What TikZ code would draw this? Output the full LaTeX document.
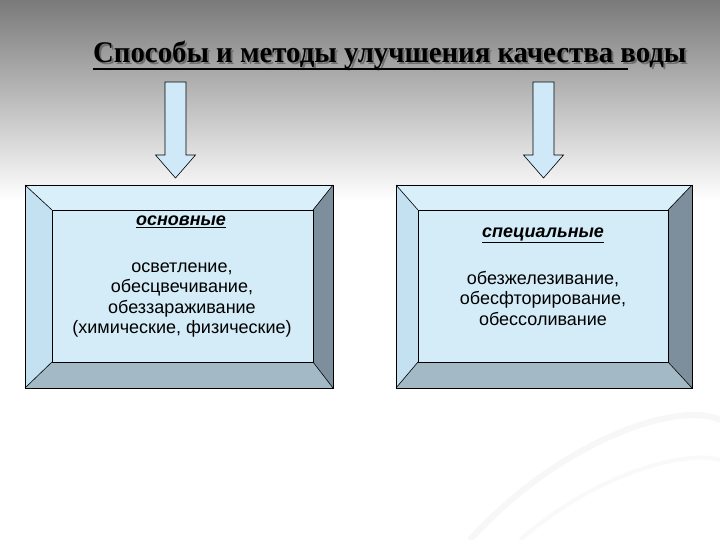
\documentclass[tikz,border=0pt]{standalone}
\usepackage{fontspec}
\setmainfont{Liberation Sans}
\newfontfamily\titlefont[FakeStretch=0.96]{Liberation Serif}
\begin{document}
\begin{tikzpicture}[x=1pt,y=-1pt,
  edge/.style={draw=black,line width=0.6pt},
  arr/.style={draw=black,line width=0.6pt,fill=arrowblue},
  txt/.style={font=\fontsize{18}{20.5}\selectfont,align=center,inner sep=0pt},
  head/.style={font=\fontsize{18}{20.5}\selectfont\bfseries\itshape,inner sep=0pt}]
\definecolor{arrowblue}{HTML}{CFE9F8}
\definecolor{face}{HTML}{D3ECF8}
\definecolor{topb}{HTML}{D9EFFA}
\definecolor{leftb}{HTML}{C3E1F1}
\definecolor{rightb}{HTML}{7D8F9C}
\definecolor{botb}{HTML}{A3B9C6}
\useasboundingbox (0,0) rectangle (720,540);
\fill[white] (0,0) rectangle (720,540);
\shade[top color=gray!90!black!95, bottom color=white] (0,0) rectangle (720,200);
% faint swirl
\draw[gray!6,line width=6pt] (470,540) .. controls (560,440) and (680,400) .. (720,420);
\draw[gray!5,line width=4pt] (520,540) .. controls (600,470) and (690,450) .. (720,460);
% title
\begin{scope}
\clip (0,0) rectangle (720,540);
\node[anchor=base west,inner sep=0pt,gray!60!black,opacity=0.6] at (95,65) {\titlefont\bfseries\fontsize{30}{32}\selectfont Способы и методы улучшения качества воды};
\node[anchor=base west,inner sep=0pt] (title) at (93,63) {\titlefont\bfseries\fontsize{30}{32}\selectfont Способы и методы улучшения качества воды};
\end{scope}
\draw[line width=1.4pt] (93,69) -- (628,69);
% arrows
\foreach \c in {175.5,543.5}{
  \draw[arr] (\c-10.5,82) -- (\c+10.5,82) -- (\c+10.5,155) -- (\c+20,155) -- (\c,178) -- (\c-20,155) -- (\c-10.5,155) -- cycle;
}
% boxes
\foreach \xa/\ya/\xb/\yb/\ia/\ja/\ib/\jb in {25/185/333/388/52/210/313/362, 396/185/692/388/418/210/668/362}{
  \fill[topb] (\xa,\ya) -- (\xb,\ya) -- (\ib,\ja) -- (\ia,\ja) -- cycle;
  \fill[leftb] (\xa,\ya) -- (\ia,\ja) -- (\ia,\jb) -- (\xa,\yb) -- cycle;
  \fill[rightb] (\xb,\ya) -- (\xb,\yb) -- (\ib,\jb) -- (\ib,\ja) -- cycle;
  \fill[botb] (\xa,\yb) -- (\xb,\yb) -- (\ib,\jb) -- (\ia,\jb) -- cycle;
  \fill[face] (\ia,\ja) rectangle (\ib,\jb);
  \draw[edge] (\xa,\ya) rectangle (\xb,\yb);
  \draw[edge] (\ia,\ja) rectangle (\ib,\jb);
  \draw[edge] (\xa,\ya) -- (\ia,\ja) (\xb,\ya) -- (\ib,\ja) (\xa,\yb) -- (\ia,\jb) (\xb,\yb) -- (\ib,\jb);
}
\node[head] (h1) at (181,222) {\underline{основные}};
\node[txt] (b1) at (182,300) {осветление,\\обесцвечивание,\\обеззараживание\\(химические, физические)};
\node[head] (h2) at (543,235) {\underline{специальные}};
\node[txt] (b2) at (543,298) {обезжелезивание,\\обесфторирование,\\обессоливание};
\end{tikzpicture}
\end{document}
